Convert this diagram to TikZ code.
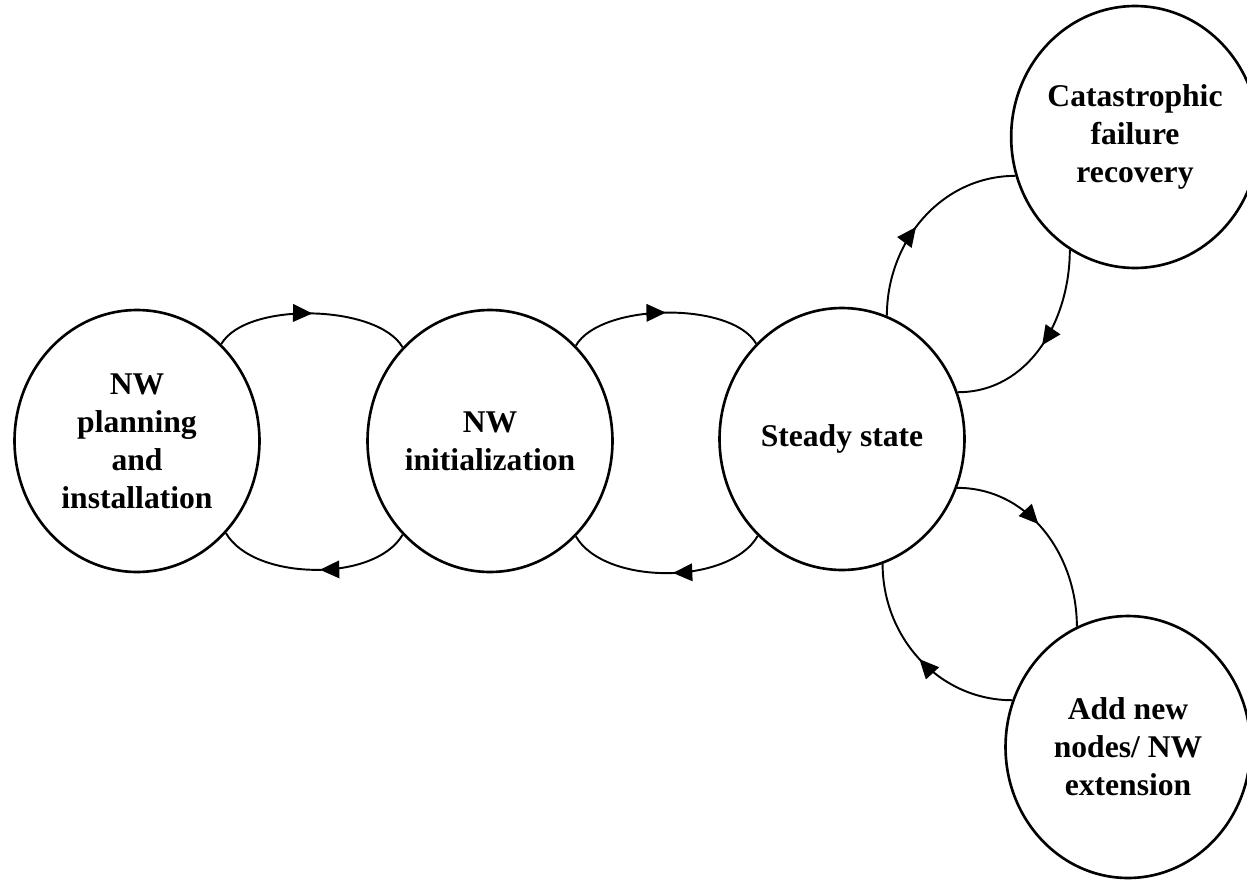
\documentclass[tikz,border=0pt]{standalone}
\usepackage{fontspec}
\setmainfont{Liberation Serif}
\usetikzlibrary{shapes.geometric,arrows.meta,decorations.markings}
\begin{document}
\begin{tikzpicture}[x=0.02cm,y=-0.02cm,
  state/.style={draw, ellipse, line width=1.5pt,
    minimum width=4.9cm, minimum height=5.24cm, inner sep=0pt,
    align=center, font=\bfseries\fontsize{18}{21.7}\selectfont},
  flow/.style={line width=1.1pt, postaction={decorate},
    decoration={markings,
      mark=at position #1 with {\arrow{Triangle[length=11pt,width=10pt]}}}},
  flow/.default=0.5]

\useasboundingbox (0,0) rectangle (1247,879);

% states
\node[state] (plan)   at (137,441)  {NW\\planning\\and\\installation};
\node[state] (init)   at (490,441)  {NW\\initialization};
\node[state] (steady) at (842,439)  {Steady state};
\node[state] (cat)    at (1135,137) {Catastrophic\\failure\\recovery};
\node[state] (add)    at (1128,747) {Add new\\nodes/ NW\\extension};

% transitions along the main chain
\draw[flow=0.5]  (plan.49)    to[out=60,in=120,looseness=0.7]   (init.133);
\draw[flow=0.47] (init.227)   to[out=-120,in=-60,looseness=0.8] (plan.-46);
\draw[flow=0.5]  (init.48)    to[out=60,in=120,looseness=0.7]   (steady.132);
\draw[flow=0.47] (steady.229) to[out=-120,in=-60,looseness=0.8] (init.-48);

% branches from the steady state
\draw[flow=0.45] (steady.70)  to[out=90,in=180]  (cat.198);
\draw[flow=0.5]  (cat.240)    to[out=-90,in=0]   (steady.22.5);
\draw[flow=0.45] (steady.-23) to[out=0,in=90]    (add.113);
\draw[flow=0.5]  (add.158)    to[out=180,in=-90] (steady.-72);
\end{tikzpicture}
\end{document}
